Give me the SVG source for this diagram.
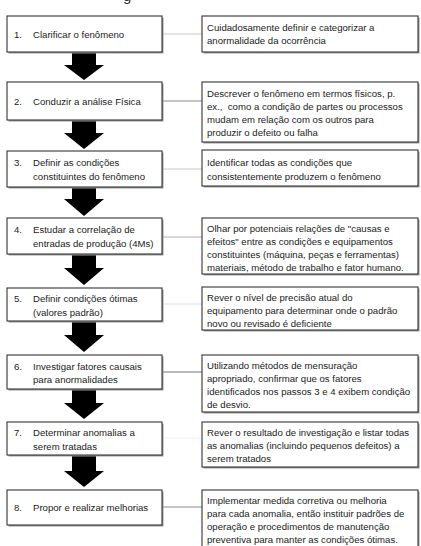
<svg xmlns="http://www.w3.org/2000/svg" width="421" height="546" viewBox="0 0 421 546">
<style>
text{font-family:"Liberation Sans",Arial,sans-serif;font-size:9.6px;fill:#222}
.box{fill:#fff;stroke:#333;stroke-width:1.1}
.sh{fill:#999}
.arr{fill:#000}
.title{font-size:15px;fill:#333}
</style>
<rect width="421" height="546" fill="#fff"/>
<text class="title" x="123" y="1">g</text>
<g id="connectors">
<line x1="163" y1="34" x2="202" y2="34" stroke="#c8c8c8"/>
<line x1="163" y1="101" x2="202" y2="101" stroke="#8a8a8a"/>
<line x1="163" y1="169" x2="202" y2="169" stroke="#c8c8c8"/>
<line x1="163" y1="237" x2="202" y2="237" stroke="#b0b0b0"/>
<line x1="163" y1="304" x2="202" y2="304" stroke="#dedede"/>
<line x1="163" y1="372" x2="202" y2="372" stroke="#777"/>
<line x1="163" y1="438" x2="202" y2="438" stroke="#f2f2f2"/>
<line x1="163" y1="507" x2="202" y2="507" stroke="#8a8a8a"/>
<polygon class="arr" points="72,53 96,53 96,65 104,65 84,80 64,65 72,65"/>
<polygon class="arr" points="72,121 96,121 96,133 104,133 84,149 64,133 72,133"/>
<polygon class="arr" points="72,188 96,188 96,199 104,199 84,216 64,199 72,199"/>
<polygon class="arr" points="72,255 96,255 96,268 104,268 84,285 64,268 72,268"/>
<polygon class="arr" points="72,322 96,322 96,335 104,335 84,352 64,335 72,335"/>
<polygon class="arr" points="72,390 96,390 96,403 104,403 84,419 64,403 72,403"/>
<polygon class="arr" points="72,456 96,456 96,471 104,471 84,487 64,471 72,471"/>
</g>
<g id="step1">
<rect class="sh" x="8.5" y="17.5" width="155" height="36"/>
<rect class="box" x="7" y="16" width="155" height="36"/>
<text x="14" y="37.5">1.</text><text x="33" y="37.5">Clarificar o fenômeno</text>
</g>
<g id="desc1">
<rect class="sh" x="203.5" y="17.5" width="216" height="36"/>
<rect class="box" x="202" y="16" width="216" height="36"/>
<text x="207" y="31">Cuidadosamente definir e categorizar a</text>
<text x="207" y="44">anormalidade da ocorrência</text>
</g>
<g id="step2">
<rect class="sh" x="8.5" y="83.5" width="155" height="38"/>
<rect class="box" x="7" y="82" width="155" height="38"/>
<text x="14" y="104.5">2.</text><text x="33" y="104.5">Conduzir a análise Física</text>
</g>
<g id="desc2">
<rect class="sh" x="203.5" y="83.5" width="216" height="60"/>
<rect class="box" x="202" y="82" width="216" height="60"/>
<text x="207" y="97">Descrever o fenômeno em termos físicos, p.</text>
<text x="207" y="110" xml:space="preserve">ex.,  como a condição de partes ou processos</text>
<text x="207" y="123">mudam em relação com os outros para</text>
<text x="207" y="136">produzir o defeito ou falha</text>
</g>
<g id="step3">
<rect class="sh" x="8.5" y="152.5" width="155" height="36"/>
<rect class="box" x="7" y="151" width="155" height="36"/>
<text x="14" y="166">3.</text><text x="33" y="166">Definir as condições</text>
<text x="33" y="179.5">constituintes do fenômeno</text>
</g>
<g id="desc3">
<rect class="sh" x="203.5" y="151.5" width="216" height="36"/>
<rect class="box" x="202" y="150" width="216" height="36"/>
<text x="207" y="166">Identificar todas as condições que</text>
<text x="207" y="179.5">consistentemente produzem o fenômeno</text>
</g>
<g id="step4">
<rect class="sh" x="8.5" y="219.5" width="155" height="36"/>
<rect class="box" x="7" y="218" width="155" height="36"/>
<text x="14" y="233">4.</text><text x="33" y="233">Estudar a correlação de</text>
<text x="33" y="246.5">entradas de produção (4Ms)</text>
</g>
<g id="desc4">
<rect class="sh" x="203.5" y="219.5" width="216" height="56"/>
<rect class="box" x="202" y="218" width="216" height="56"/>
<text x="207" y="232">Olhar por potenciais relações de "causas e</text>
<text x="207" y="245">efeitos" entre as condições e equipamentos</text>
<text x="207" y="258">constituintes (máquina, peças e ferramentas)</text>
<text x="207" y="271">materiais, método de trabalho e fator humano.</text>
</g>
<g id="step5">
<rect class="sh" x="8.5" y="289.5" width="155" height="33"/>
<rect class="box" x="7" y="288" width="155" height="33"/>
<text x="14" y="302">5.</text><text x="33" y="302">Definir condições ótimas</text>
<text x="33" y="315.5">(valores padrão)</text>
</g>
<g id="desc5">
<rect class="sh" x="203.5" y="288.5" width="216" height="43"/>
<rect class="box" x="202" y="287" width="216" height="43"/>
<text x="207" y="301">Rever o nível de precisão atual do</text>
<text x="207" y="314">equipamento para determinar onde o padrão</text>
<text x="207" y="327">novo ou revisado é deficiente</text>
</g>
<g id="step6">
<rect class="sh" x="8.5" y="356.5" width="155" height="34"/>
<rect class="box" x="7" y="355" width="155" height="34"/>
<text x="14" y="369.5">6.</text><text x="33" y="369.5">Investigar fatores causais</text>
<text x="33" y="383">para anormalidades</text>
</g>
<g id="desc6">
<rect class="sh" x="203.5" y="356.5" width="216" height="57"/>
<rect class="box" x="202" y="355" width="216" height="57"/>
<text x="207" y="369">Utilizando métodos de mensuração</text>
<text x="207" y="382">apropriado, confirmar que os fatores</text>
<text x="207" y="395">identificados nos passos 3 e 4 exibem condição</text>
<text x="207" y="408">de desvio.</text>
</g>
<g id="step7">
<rect class="sh" x="8.5" y="423.5" width="155" height="33"/>
<rect class="box" x="7" y="422" width="155" height="33"/>
<text x="14" y="436">7.</text><text x="33" y="436">Determinar anomalias a</text>
<text x="33" y="449.5">serem tratadas</text>
</g>
<g id="desc7">
<rect class="sh" x="203.5" y="423.5" width="216" height="45"/>
<rect class="box" x="202" y="422" width="216" height="45"/>
<text x="207" y="436">Rever o resultado de investigação e listar todas</text>
<text x="207" y="449">as anomalias (incluindo pequenos defeitos) a</text>
<text x="207" y="462">serem tratados</text>
</g>
<g id="step8">
<rect class="sh" x="8.5" y="491.5" width="155" height="35"/>
<rect class="box" x="7" y="490" width="155" height="35"/>
<text x="14" y="511">8.</text><text x="33" y="511">Propor e realizar melhorias</text>
</g>
<g id="desc8">
<rect class="sh" x="203.5" y="491.5" width="216" height="60"/>
<rect class="box" x="202" y="490" width="216" height="60"/>
<text x="207" y="504">Implementar medida corretiva ou melhoria</text>
<text x="207" y="517">para cada anomalia, então instituir padrões de</text>
<text x="207" y="530">operação e procedimentos de manutenção</text>
<text x="207" y="543">preventiva para manter as condições ótimas.</text>
</g>
</svg>
